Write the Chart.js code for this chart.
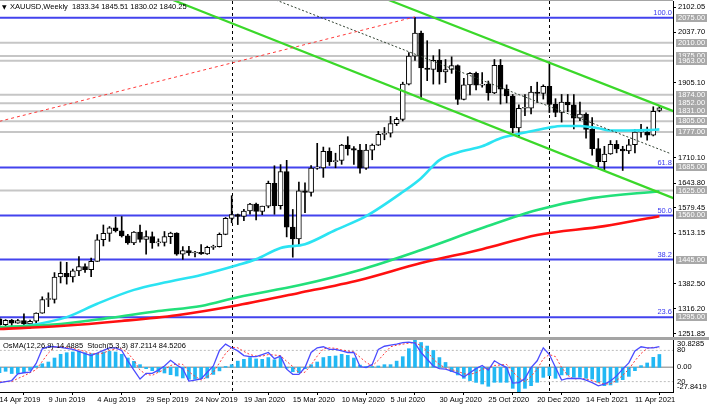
<!DOCTYPE html>
<html>
<head>
<meta charset="utf-8">
<script src="https://cdn.jsdelivr.net/npm/chart.js@4.4.1/dist/chart.umd.min.js"></script>
<style>
  html, body { margin: 0; padding: 0; background: #fff; }
  #wrap { position: relative; width: 709px; height: 407px; overflow: hidden; background: #fff; }
  #main { position: absolute; left: 0; top: 0; }
  #osc  { position: absolute; left: 0; top: 340px; background: #fff; }
  .sep  { position: absolute; left: 0; top: 337px; width: 709px; height: 3px; background: #a4a4a4; }
  .topline { position: absolute; left: 0; top: 0; width: 673px; height: 1px; background: #a4a4a4; }
</style>
</head>
<body>
<div id="wrap">
  <canvas id="main" width="709" height="345"></canvas>
  <div class="sep"></div>
  <canvas id="osc" width="709" height="67"></canvas>
  <div class="topline"></div>
</div>
<script>
'use strict';

// ── Weekly XAUUSD bars, 14 Apr 2019 .. 9 May 2021 (index 0..108) ─────────
const opens = [
  1290.6,1275.6,1286.4,1279.5,1285.8,1277.4,1284.2,1305.6,1341.0,1341.3,
  1399.6,1409.3,1399.7,1415.6,1426.4,1418.9,1440.4,1496.6,1513.3,1527.3,
  1519.9,1506.8,1488.3,1516.8,1497.5,1504.5,1488.5,1489.7,1504.6,1514.2,
  1459.3,1468.2,1462.1,1463.9,1459.7,1476.6,1478.3,1510.6,1552.1,1562.1,
  1557.2,1571.4,1589.2,1570.4,1584.0,1643.3,1585.6,1674.0,1529.6,1498.5,
  1624.1,1620.0,1683.0,1683.5,1727.0,1700.0,1703.0,1743.0,1734.0,1730.0,
  1683.0,1730.0,1743.0,1771.0,1774.0,1799.0,1810.0,1902.0,1975.0,2035.0,
  1944.0,1940.0,1964.0,1934.0,1940.0,1950.0,1862.0,1900.0,1930.0,1899.0,
  1902.0,1879.0,1951.0,1889.0,1871.0,1788.0,1839.0,1839.0,1881.0,1878.0,
  1896.0,1849.0,1828.0,1855.0,1848.0,1813.0,1824.0,1784.0,1734.0,1700.0,
  1720.0,1745.0,1733.0,1728.0,1744.0,1777.0,1777.0,1769.0,1833.34
];
const highs = [
  1293.0,1288.6,1289.0,1289.0,1303.6,1287.2,1306.0,1348.0,1358.4,1411.0,
  1439.0,1437.7,1420.2,1452.6,1433.7,1449.0,1510.0,1535.0,1531.0,1555.4,
  1557.0,1510.7,1518.0,1535.0,1519.5,1516.8,1498.9,1518.0,1516.3,1514.8,
  1478.7,1479.3,1466.1,1484.3,1479.8,1482.4,1514.3,1554.6,1611.2,1563.5,
  1575.5,1591.3,1592.3,1584.1,1649.3,1689.3,1692.3,1703.4,1575.5,1647.0,
  1645.0,1690.0,1747.7,1738.0,1736.0,1722.0,1745.0,1765.0,1739.0,1745.0,
  1745.0,1746.0,1779.0,1789.0,1818.0,1815.0,1907.0,1984.0,2075.0,2040.0,
  2015.0,1976.0,1992.0,1966.0,1973.0,1952.0,1917.0,1932.0,1933.0,1932.0,
  1910.0,1966.0,1966.0,1900.0,1875.0,1848.0,1875.0,1896.0,1907.0,1900.0,
  1959.0,1864.0,1875.0,1875.0,1875.0,1855.0,1827.0,1815.0,1760.0,1740.0,
  1755.0,1755.0,1740.0,1758.0,1784.0,1797.0,1790.0,1843.0,1845.51
];
const lows = [
  1270.5,1266.2,1266.3,1279.0,1274.0,1266.2,1273.0,1305.0,1322.4,1331.6,
  1384.0,1381.0,1386.3,1402.9,1411.6,1400.3,1440.0,1480.4,1492.4,1516.7,
  1503.6,1484.8,1484.0,1490.0,1459.0,1474.2,1480.0,1480.2,1486.5,1456.1,
  1445.5,1455.7,1452.1,1458.3,1458.3,1471.3,1477.4,1509.6,1540.7,1536.1,
  1546.3,1563.1,1548.5,1561.9,1579.8,1562.9,1576.2,1504.0,1451.2,1482.5,
  1567.0,1610.0,1680.0,1659.0,1690.0,1684.0,1693.0,1717.0,1693.0,1670.0,
  1680.0,1705.0,1742.0,1757.0,1764.0,1794.0,1806.0,1900.0,1964.0,1863.0,
  1911.0,1902.0,1902.0,1906.0,1930.0,1849.0,1861.0,1874.0,1887.0,1894.0,
  1860.0,1877.0,1850.0,1853.0,1775.0,1764.0,1820.0,1824.0,1854.0,1863.0,
  1828.0,1817.0,1803.0,1830.0,1785.0,1807.0,1761.0,1717.0,1687.0,1677.0,
  1719.0,1723.0,1677.0,1721.0,1723.0,1764.0,1756.0,1767.0,1830.02
];
const closes = [
  1275.6,1286.4,1279.5,1285.8,1277.4,1284.2,1305.6,1341.0,1341.3,1399.6,
  1409.3,1399.7,1415.6,1426.4,1418.9,1440.4,1496.6,1513.3,1527.3,1519.9,
  1506.8,1488.3,1516.8,1497.5,1504.5,1488.5,1489.7,1504.6,1514.2,1459.3,
  1468.2,1462.1,1463.9,1459.7,1476.6,1478.3,1510.6,1552.1,1562.1,1557.2,
  1571.4,1589.2,1570.4,1584.0,1643.3,1585.6,1674.0,1529.6,1498.5,1624.1,
  1620.0,1683.0,1683.5,1727.0,1700.0,1703.0,1743.0,1734.0,1730.0,1683.0,
  1730.0,1743.0,1771.0,1774.0,1799.0,1810.0,1902.0,1975.0,2035.0,1944.0,
  1940.0,1964.0,1934.0,1940.0,1950.0,1862.0,1900.0,1930.0,1899.0,1902.0,
  1879.0,1951.0,1889.0,1871.0,1788.0,1839.0,1839.0,1881.0,1878.0,1896.0,
  1849.0,1828.0,1855.0,1848.0,1813.0,1824.0,1784.0,1734.0,1700.0,1720.0,
  1745.0,1733.0,1728.0,1744.0,1777.0,1777.0,1769.0,1831.0,1840.25
];

// moving averages, [bar, price]
const maCyan = [[0,1267],[5,1274],[11,1295],[16,1330],[22,1366],[27,1385],[33,1405],[39,1431],[42,1446],
  [46,1475],[50,1485],[55,1522],[60,1558],[66,1621],[69,1657],[72,1704],[75,1724],[79,1740],[82,1761],
  [84,1769],[87,1779],[90,1789],[92,1793],[95,1793],[98,1787],[100,1781],[103,1781],[106,1782],[108,1784]];
const maGreen = [[0,1269],[10,1277],[18,1293],[26,1311],[33,1324],[39,1347],[49,1378],[59,1418],[69,1470],
  [79,1527],[88,1574],[97,1605],[108,1623]];
const maRed = [[0,1264],[10,1272],[20,1285],[29,1300],[39,1326],[49,1358],[59,1392],[69,1436],[79,1472],
  [88,1509],[99,1532],[108,1558]];

// trend lines, two [bar, price] ends each
const channelTop = [[63.7,2121],[110.3,1831.4]];
const channelBottom = [[28.4,2121],[110.3,1605]];
const channelMid = [[45.25,2121],[109.7,1721.7]];
const redTrend = [[0,1805],[68,2077]];

// horizontal levels
const blueLevels = [2075, 1685, 1560, 1445, 1295];
const fibTexts = ['100.0', '61.8', '50.0', '38.2', '23.6'];
const grayLevels = [2010, 1975, 1963, 1874, 1852, 1831, 1805, 1777, 1625];
const boxLevels = [2075, 2010, 1975, 1963, 1874, 1852, 1831, 1805, 1777, 1685, 1625, 1560, 1445, 1295];

const priceTicks = [2102.05, 2037.70, 1905.10, 1710.10, 1643.80, 1579.45, 1513.15, 1382.50, 1316.20, 1251.85];
const yearSeparators = [38, 90];
const xTickIdx = [0, 8, 16, 24, 32, 40, 48, 56, 64, 72, 80, 88, 96, 104];
const xTickText = ['14 Apr 2019', '9 Jun 2019', '4 Aug 2019', '29 Sep 2019', '24 Nov 2019', '19 Jan 2020',
  '15 Mar 2020', '10 May 2020', '5 Jul 2020', '30 Aug 2020', '25 Oct 2020', '20 Dec 2020', '14 Feb 2021', '11 Apr 2021'];

// ── Oscillator window ───────────────────────────────────────────────
const osma = [
  -6,-4.5,-7,-7,-6,-3.5,1.5,4,6,10.5,14.7,16.5,17.3,18,16.5,15.4,15.8,17.3,18,17.3,
  14.7,10.5,6.8,3,-1.5,-3.8,-5.3,-6.4,-8.3,-9.8,-12,-13.5,-13.5,-12.8,-12,-8,-4,1,
  3,7,9,11,9.5,9,11,8.5,11,-1,-5,-6,-1.5,3,6,11,12.4,12.8,14.7,13.5,10.5,2.5,
  1,1,1.5,3,3,7,12,21,30.8,28,24,19,11,5.5,
  -4.9,-8.6,-12.4,-15,-17,-18.8,-21.4,-16.9,-16.9,-16.9,-23.7,-27.8,-23.7,-20.7,-16.9,-11.3,-9.4,-12.4,
  -8.6,-8.6,-11.3,-11.3,-12.4,-13.2,-16.9,-20.7,-19.9,-16.9,-13.9,-10.2,-3.8,1.9,4.9,11.3,14.49
];
const stochMain = [
  18,20,22,35,37,38,55,83,87,87,86,84,82,78,74,70,75,80,85,85,80,60,42,25,36,36,42,50,61,52,45,21,23,25,38,50,80,92,
  85,79,70,68,68,72,76,64,69,44,34,34,47,76,85,87,82,82,79,76,76,49,47,53,82,88,90,92,95,96,94,76,63,50,45,44,
  40,36,29,37,45,51,42,60,53,47,17,18,26,47,60,85,72,47,23,26,26,26,23,18,12,15,21,31,44,56,79,87,85,85,87.21
];
const stochSignal = [
  19,20,20,26,31,37,43,59,75,86,87,86,84,81,78,74,73,75,80,83,83,75,61,42,34,32,38,43,51,54,53,39,30,23,29,38,56,74,
  86,85,78,72,69,69,72,71,70,59,49,37,38,52,69,83,85,84,81,79,77,67,57,50,61,74,87,90,92,94,95,89,78,63,53,46,
  43,40,35,34,37,44,46,51,52,53,39,27,20,30,44,64,72,68,47,32,25,26,25,22,18,15,16,22,32,44,60,74,84,86,84.52
];
const oscAxisLabels = [
  ['30.8285', 'yO', 30.8285], ['80', 'yS', 80], ['0.00', 'yO', 0], ['20', 'yS', 20], ['-27.8419', 'yO', -27.8419]
];

const X_MIN = 0.082, X_MAX = 110.23;
const FONT = '"Liberation Sans", Arial, sans-serif';

const pts = arr => arr.map(([x, y]) => ({x, y}));
const hline = (v, color, width, dash, axis) => ({
  type: 'line', data: [{x: X_MIN - 2, y: v}, {x: X_MAX + 2, y: v}], yAxisID: axis || 'y',
  borderColor: color, borderWidth: width, borderDash: dash || [], pointRadius: 0, order: 30
});
const tline = (arr, color, width, dash) => ({
  type: 'line', data: pts(arr), borderColor: color, borderWidth: width, borderDash: dash || [],
  pointRadius: 0, order: 5
});
const maLine = (arr, color) => ({
  type: 'line', data: pts(arr), borderColor: color, borderWidth: 2.6, pointRadius: 0,
  cubicInterpolationMode: 'monotone', order: 8
});
// no extra room for first/last labels, the plot must fill its window
const noPad = s => { s.paddingTop = 0; s.paddingBottom = 0; s.paddingLeft = 0; s.paddingRight = 0; };

function drawSeparators(chart) {
  const {ctx, chartArea: a, scales: {x}} = chart;
  ctx.save();
  ctx.strokeStyle = '#000'; ctx.lineWidth = 1; ctx.setLineDash([3, 3]);
  yearSeparators.forEach(i => {
    const px = Math.round(x.getPixelForValue(i)) + 0.5;
    ctx.beginPath(); ctx.moveTo(px, a.top); ctx.lineTo(px, a.bottom); ctx.stroke();
  });
  ctx.restore();
}

// ── main price window ───────────────────────────────────────────────
const mainDecor = {
  id: 'mainDecor',
  beforeDatasetsDraw: drawSeparators,
  afterDraw(chart) {
    const {ctx, chartArea: a, scales: {y}} = chart;
    ctx.save();
    ctx.font = '7.5px ' + FONT;
    ctx.fillStyle = '#3a3af0'; ctx.textAlign = 'right'; ctx.textBaseline = 'bottom';
    blueLevels.forEach((v, k) => ctx.fillText(fibTexts[k], a.right - 1, y.getPixelForValue(v) - 1));

    ctx.textAlign = 'left'; ctx.textBaseline = 'middle';
    boxLevels.forEach(v => {
      const py = y.getPixelForValue(v);
      ctx.fillStyle = '#a8a8a8';
      ctx.fillRect(a.right + 3, Math.round(py - 4), 31, 8);
      ctx.fillStyle = '#fff';
      ctx.fillText(v.toFixed(2), a.right + 5, py);
    });

    ctx.fillStyle = '#000';
    ctx.font = '6px "DejaVu Sans"';
    ctx.fillText('\u25BC', 2, 7);
    ctx.font = '7.5px ' + FONT;
    ctx.fillText('XAUUSD,Weekly  1833.34 1845.51 1830.02 1840.25', 10, 7);
    ctx.restore();
  }
};

new Chart(document.getElementById('main'), {
  type: 'bar',
  data: {
    datasets: [
      ...blueLevels.map(v => hline(v, '#4343ee', 2)),
      ...grayLevels.map(v => hline(v, '#c6c6c6', 2)),
      { type: 'bar', data: opens.map((o, i) => ({x: i, y: [lows[i], highs[i]]})),
        backgroundColor: '#000', barThickness: 1, grouped: false, order: 20 },
      { type: 'bar', data: opens.map((o, i) => ({x: i, y: [o, closes[i]]})),
        backgroundColor: opens.map((o, i) => closes[i] >= o ? '#fff' : '#000'),
        borderColor: '#000', borderWidth: 1, borderSkipped: false, minBarLength: 1,
        barThickness: 5, grouped: false, order: 19 },
      maLine(maRed, '#ff1010'),
      maLine(maGreen, '#22e07a'),
      maLine(maCyan, '#2be3f2'),
      tline(redTrend, '#ff3a3a', 1, [3, 3]),
      tline(channelMid, '#2f3f2f', 1, [2, 2]),
      tline(channelTop, '#3bd82a', 2.2),
      tline(channelBottom, '#3bd82a', 2.2)
    ]
  },
  options: {
    responsive: false, animation: false,
    layout: { padding: { top: 1, bottom: 8, left: 0, right: 0 } },
    plugins: { legend: { display: false }, tooltip: { enabled: false } },
    scales: {
      x: { type: 'linear', min: X_MIN, max: X_MAX, display: false, offset: false },
      y: {
        position: 'right', min: 1243.25, max: 2118.45,
        afterFit: s => { s.width = 36; noPad(s); },
        afterBuildTicks: s => { s.ticks = priceTicks.map(v => ({value: v})); },
        ticks: { callback: v => v.toFixed(2), autoSkip: false, color: '#000', padding: 2,
          font: { size: 7.5, family: FONT } },
        grid: { drawOnChartArea: false, drawTicks: true, tickLength: 3, color: '#000' },
        border: { display: true, color: '#000' }
      }
    }
  },
  plugins: [mainDecor]
});

// ── oscillator window ───────────────────────────────────────────────
const oscDecor = {
  id: 'oscDecor',
  beforeDatasetsDraw: drawSeparators,
  afterDraw(chart) {
    const {ctx, chartArea: a, scales} = chart;
    ctx.save();
    ctx.strokeStyle = '#000'; ctx.lineWidth = 1;
    ctx.beginPath(); ctx.moveTo(a.right + 0.5, 0); ctx.lineTo(a.right + 0.5, a.bottom); ctx.stroke();
    ctx.font = '7.5px ' + FONT; ctx.fillStyle = '#000';
    ctx.textAlign = 'left'; ctx.textBaseline = 'middle';
    oscAxisLabels.forEach(([txt, ax, v]) => {
      const py = Math.min(Math.max(scales[ax].getPixelForValue(v), a.top + 4), a.bottom - 5);
      ctx.fillText(txt, a.right + 4, py);
    });
    ctx.fillText('OsMA(12,26,9) 14.4885  Stoch(5,3,3) 87.2114 84.5206', 3, a.top + 6);
    ctx.restore();
  }
};

new Chart(document.getElementById('osc'), {
  type: 'bar',
  data: {
    datasets: [
      hline(0, '#a8a8a8', 1.5, [], 'yO'),
      hline(80, '#bdbdbd', 1, [2, 2], 'yS'),
      hline(20, '#bdbdbd', 1, [2, 2], 'yS'),
      { type: 'bar', data: osma.map((v, i) => ({x: i, y: v})), yAxisID: 'yO',
        backgroundColor: '#22b8f4', barThickness: 3, order: 20 },
      { type: 'line', data: stochSignal.map((v, i) => ({x: i, y: v})), yAxisID: 'yS',
        borderColor: '#ff3b3b', borderWidth: 1, borderDash: [2, 2], pointRadius: 0, order: 10 },
      { type: 'line', data: stochMain.map((v, i) => ({x: i, y: v})), yAxisID: 'yS',
        borderColor: '#4b4bff', borderWidth: 1.3, pointRadius: 0, order: 9 }
    ]
  },
  options: {
    responsive: false, animation: false,
    layout: { padding: { top: 0, bottom: 0, left: 0, right: 36 } },
    plugins: { legend: { display: false }, tooltip: { enabled: false } },
    scales: {
      x: {
        type: 'linear', min: X_MIN, max: X_MAX, offset: false,
        afterFit: s => { s.height = 15; noPad(s); },
        afterBuildTicks: s => { s.ticks = xTickIdx.map(v => ({value: v})); },
        ticks: { callback: (v, k) => xTickText[k], autoSkip: false, maxRotation: 0, align: 'start',
          color: '#000', padding: 0, font: { size: 7.5, family: FONT } },
        grid: { drawOnChartArea: false, drawTicks: true, tickLength: 3, color: '#000' },
        border: { display: true, color: '#000' }
      },
      yO: { display: false, min: -27.8419, max: 30.8285 },
      yS: { display: false, min: 0, max: 100 }
    }
  },
  plugins: [oscDecor]
});
</script>
</body>
</html>
